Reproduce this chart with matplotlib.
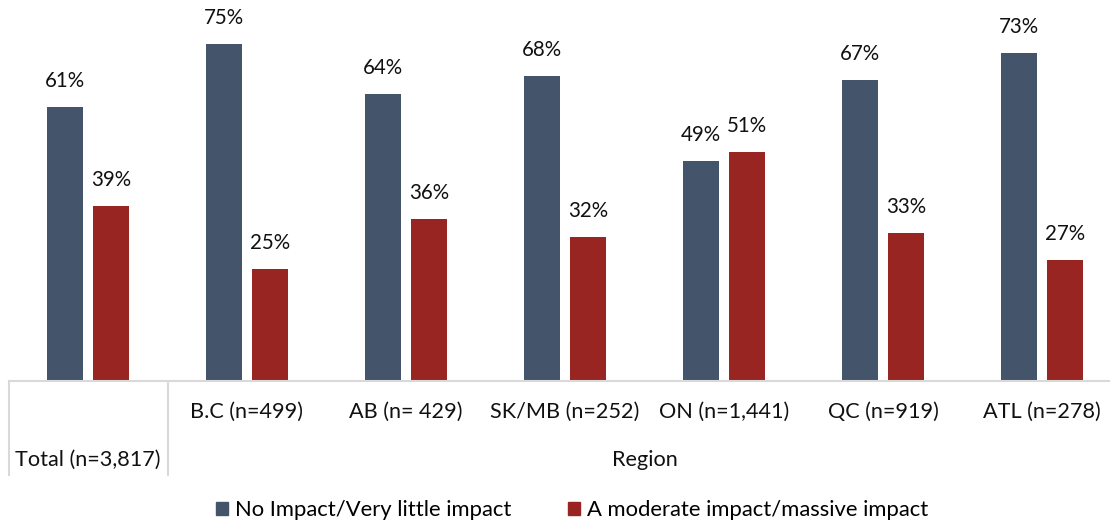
import matplotlib
matplotlib.use("Agg")
import matplotlib.pyplot as plt
from matplotlib.transforms import blended_transform_factory
from matplotlib.patches import Patch
from matplotlib.lines import Line2D

categories = ["Total (n=3,817)", "B.C (n=499)", "AB (n= 429)", "SK/MB (n=252)",
              "ON (n=1,441)", "QC (n=919)", "ATL (n=278)"]
no_impact = [61, 75, 64, 68, 49, 67, 73]
moderate_impact = [39, 25, 36, 32, 51, 33, 27]
series_names = ["No Impact/Very little impact", "A moderate impact/massive impact"]
group_label = "Region"

plt.rcParams['font.family'] = ['Lato', 'DejaVu Sans']

navy = "#44546A"
red = "#982521"
grid_col = "#D9D9D9"
txt = "#111111"

W, H = 1110, 523
fig = plt.figure(figsize=(W / 100, H / 100), dpi=100)
base_px = 381
left_px, right_px = 8.5, 1121.5
ax = fig.add_axes([left_px / W, (H - base_px) / H, (right_px - left_px) / W, base_px / H])

n = len(categories)
x = list(range(n))
bw = 0.226
off = 0.145
b1 = ax.bar([i - off for i in x], no_impact, bw, color=navy)
b2 = ax.bar([i + off for i in x], moderate_impact, bw, color=red)

for bars, vals in ((b1, no_impact), (b2, moderate_impact)):
    for r, v in zip(bars, vals):
        ax.annotate(f"{v}%", (r.get_x() + r.get_width() / 2, v), xytext=(0, 26),
                    textcoords="offset pixels", ha="center", va="center",
                    fontsize=14.8, color=txt)

ax.set_xlim(-0.5, n - 0.5)
ax.set_ylim(0, base_px / 4.49)
for s in ax.spines.values():
    s.set_visible(False)
ax.set_xticks([])
ax.set_yticks([])

trans = blended_transform_factory(ax.transData, ax.transAxes)
ax.add_line(Line2D([-0.5, n - 0.5], [0, 0], transform=trans, color=grid_col, lw=1.5, clip_on=False))
low = -94 / base_px
for xv in (-0.5, 0.5):
    ax.add_line(Line2D([xv, xv], [0, low], transform=trans, color=grid_col, lw=1.5, clip_on=False))

for i, c in enumerate(categories):
    if i == 0:
        ax.text(i, -79 / base_px, c, transform=trans, ha="center", va="center", fontsize=15.6, color=txt)
    else:
        ax.text(i, -31 / base_px, c, transform=trans, ha="center", va="center", fontsize=15.6, color=txt)
ax.text((0.5 + n - 0.5) / 2, -79 / base_px, group_label, transform=trans, ha="center", va="center",
        fontsize=15.6, color=txt)

handles = [Patch(color=navy), Patch(color=red)]
fig.legend(handles, series_names, loc="center", bbox_to_anchor=(572 / W, 1 - 510 / H), ncol=2,
           frameon=False, fontsize=15.8, handlelength=0.55, handleheight=0.55, handletextpad=0.3,
           columnspacing=2.6)

fig.savefig("out.png", dpi=100)
